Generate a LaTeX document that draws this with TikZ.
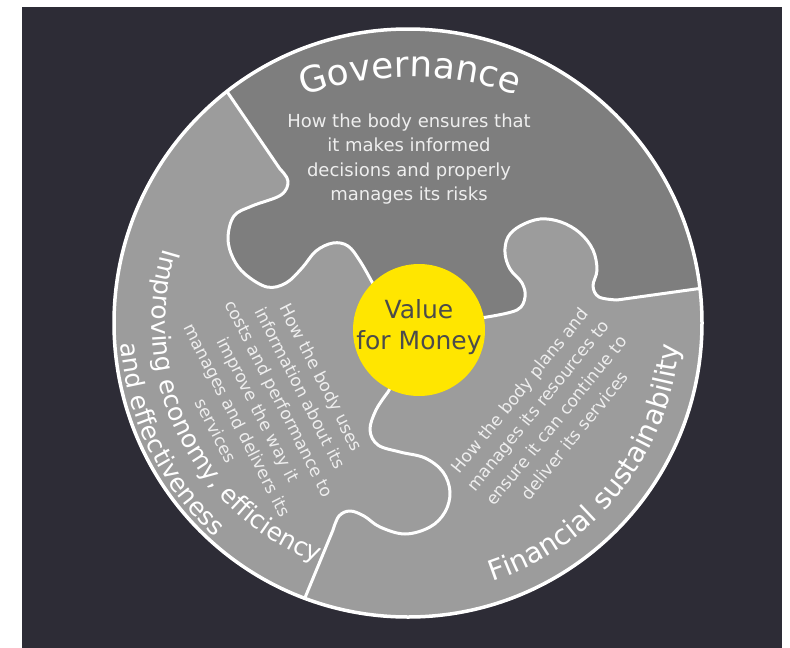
\documentclass[tikz,border=0pt]{standalone}
\usepackage{fontspec}
\setmainfont{DejaVu Sans}
\usetikzlibrary{decorations.text}
\definecolor{bgdark}{RGB}{45,44,54}
\definecolor{govgray}{RGB}{126,126,126}
\definecolor{pcgray}{RGB}{156,156,156}
\definecolor{eyyellow}{RGB}{255,230,0}
\definecolor{vfmtext}{RGB}{75,75,75}
\definecolor{bodytext}{RGB}{238,238,238}
\newcommand{\govfont}{\fontsize{36}{36}\selectfont}
\newcommand{\titfont}{\fontsize{25}{25}\selectfont}
\newcommand{\finfont}{\fontsize{28}{28}\selectfont}
\begin{document}
\begin{tikzpicture}[x=1pt,y=-1pt,
  pieceline/.style={draw=white, line width=3pt, line join=round, line cap=round},
  bodytxt/.style={text=bodytext, align=center, inner sep=0pt, font=\fontsize{17}{23.6}\selectfont},
  curvetext/.style={decorate, decoration={text along path, text color=white, #1}}
]
\useasboundingbox (0,0) rectangle (790,648);
\fill[white] (0,0) rectangle (790,648);
\fill[bgdark] (22,7) rectangle (782,648);
\coordinate (C) at (408,323);
\coordinate (Y) at (419,330);
\begin{scope}
  \clip (C) circle[radius=295pt];
  \fill[pcgray] (C) circle[radius=295pt];
  % Governance piece
  \fill[govgray] (206,61) -- (228,93) -- (280,169) -- plot[smooth, tension=0.6] coordinates {(280,169) (288,181) (281,195) (252,206) (234,216) (228,238) (233,258) (245,274) (267,287) (286,283) (302,268) (316,251) (333,243) (348,246) (360,261) (372,282)} -- (Y) -- plot[smooth, tension=0.6] coordinates {(487,317) (517,310) (525,297) (522,283) (510,269) (505,253) (508,237) (520,226) (540,219) (561,222) (580,233) (593,250) (597,270) (593,286) (599,297) (617,300)} -- (703,288) -- (740,283) -- (780,0) -- (60,0) -- cycle;
  % boundaries
  \draw[pieceline] (206,61) -- (228,93) -- (280,169) -- plot[smooth, tension=0.6] coordinates {(280,169) (288,181) (281,195) (252,206) (234,216) (228,238) (233,258) (245,274) (267,287) (286,283) (302,268) (316,251) (333,243) (348,246) (360,261) (372,282)} -- (385,300);
  \draw[pieceline] (460,322) -- plot[smooth, tension=0.6] coordinates {(487,317) (517,310) (525,297) (522,283) (510,269) (505,253) (508,237) (520,226) (540,219) (561,222) (580,233) (593,250) (597,270) (593,286) (599,297) (617,300)} -- (703,288) -- (740,283);
  \draw[pieceline] (400,370) -- plot[smooth, tension=0.6] coordinates {(388,392) (376,410) (370,430) (378,445) (400,452) (425,458) (443,472) (450,492) (445,512) (430,527) (405,534) (380,527) (364,516) (350,511) (339,516) (333,530)} -- (297,617) -- (290,635);
\end{scope}
\draw[white, line width=3.5pt] (C) circle[radius=294pt];
\fill[eyyellow] (Y) circle[radius=66pt];
\node[text=vfmtext, align=center, inner sep=0pt, font=\fontsize{25}{31}\selectfont] (vfm) at (419,327) {Value\\for Money};
% titles
\path[curvetext={text={|\govfont|Governance}, text align=center}] (410,397) ++(120:320pt) arc[start angle=120, end angle=60, radius=320pt];
\path[curvetext={text={|\titfont|Improving economy, efficiency}}] (C) ++(163:256pt) arc[start angle=163, end angle=265, radius=256pt];
\path[curvetext={text={|\titfont|and effectiveness}}] (C) ++(184:288pt) arc[start angle=184, end angle=255, radius=288pt];
\path[curvetext={text={|\finfont|Financial sustainability}}] (C) ++(288:272pt) arc[start angle=288, end angle=380, radius=272pt];
% body texts
\node[bodytxt, font=\fontsize{18}{24.5}\selectfont] (govtext) at (409,159) {How the body ensures that\\it makes informed\\decisions and properly\\manages its risks};
\node[bodytxt, rotate=-63] (imptext) at (269,404) {How the body uses\\information about its\\costs and performance to\\improve the way it\\manages and delivers its\\services};
\node[bodytxt, rotate=51] (fintext) at (547,413) {How the body plans and\\manages its resources to\\ensure it can continue to\\deliver its services};
\end{tikzpicture}
\end{document}
